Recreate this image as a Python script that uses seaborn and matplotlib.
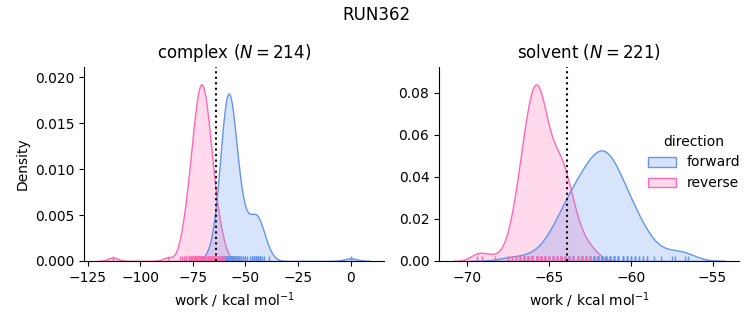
import numpy as np
import pandas as pd
import seaborn as sns
import matplotlib.pyplot as plt

phases = ["complex", "solvent"]
directions = ["forward", "reverse"]
colors = ["#6495ED", "#FF69B4"]

# Work values (kcal/mol) and how many switching trajectories gave each value
complex_forward_work = [-67, -65, -64, -63, -62, -61, -60, -59, -58, -57, -56, -55, -54, -53,
                        -52, -51, -50, -49, -48, -47, -46, -45, -44, -43, -42, -41, -39, 0]
complex_forward_count = [1, 1, 1, 1, 3, 5, 10, 13, 13, 12, 7, 5, 4, 4,
                         2, 2, 2, 1, 1, 2, 3, 3, 4, 3, 1, 1, 1, 1]

complex_reverse_work = [-113, -87, -81, -80, -79, -78, -77, -76, -75, -74, -73, -72, -71,
                        -70, -69, -68, -67, -66, -65, -64, -63, -62, -61, -60]
complex_reverse_count = [1, 1, 1, 1, 2, 3, 4, 4, 6, 7, 9, 9, 10,
                         9, 9, 7, 7, 5, 4, 2, 2, 2, 1, 1]

solvent_forward_work = [-67.5, -66.5, -65.75, -65.25, -65.0, -64.75, -64.5, -64.25, -64.0,
                        -63.75, -63.5, -63.25, -63.0, -62.75, -62.5, -62.25, -62.0, -61.75,
                        -61.5, -61.25, -61.0, -60.75, -60.5, -60.25, -60.0, -59.75, -59.5,
                        -59.25, -59.0, -58.6, -58.15, -57.5, -57.3, -56.7, -56.5]
solvent_forward_count = [1, 1, 1, 1, 1, 2, 2, 3, 3,
                         4, 4, 4, 5, 5, 5, 6, 6, 7,
                         7, 6, 5, 5, 4, 4, 3, 3, 2,
                         2, 2, 1, 1, 1, 1, 1, 1]

solvent_reverse_work = [-69.4, -69.1, -68.3, -67.5, -67.25, -67.0, -66.75, -66.5,
                        -66.25, -66.0, -65.75, -65.5, -65.25, -65.0, -64.75, -64.5, -64.25,
                        -64.0, -63.75, -63.5, -63.25, -63.0, -62.75, -62.5, -62.2]
solvent_reverse_count = [1, 1, 1, 1, 2, 3, 5, 7,
                         9, 10, 11, 11, 8, 5, 5, 6, 7,
                         5, 4, 3, 2, 1, 1, 1, 1]

# Free-energy estimate per phase, drawn as a dotted line
free_energy_estimate = [-64.2, -63.9]

series = [
    ("complex", "forward", complex_forward_work, complex_forward_count),
    ("complex", "reverse", complex_reverse_work, complex_reverse_count),
    ("solvent", "forward", solvent_forward_work, solvent_forward_count),
    ("solvent", "reverse", solvent_reverse_work, solvent_reverse_count),
]
df = pd.concat(
    [pd.DataFrame({"work": np.repeat(np.asarray(w, dtype=float), c),
                   "phase": p, "direction": d})
     for p, d, w, c in series],
    ignore_index=True,
)

g = sns.displot(
    data=df, x="work", hue="direction", col="phase", kind="kde",
    fill=True, rug=True, hue_order=directions, col_order=phases,
    palette=colors, facet_kws=dict(sharex=False, sharey=False),
    height=3.0, aspect=1.0,
)
fig = g.figure
fig.set_size_inches(7.53, 3.25)

for ax, phase, est in zip(g.axes.flat, phases, free_energy_estimate):
    n = int((df["phase"] == phase).sum())
    ax.set_title(f"{phase} ($N = {n}$)", fontsize=12)
    ax.axvline(est, color="black", linestyle=":", linewidth=1.5)
    ax.margins(y=0.1)
    ax.set_xlabel("work / kcal mol$^{-1}$")
g.axes.flat[0].set_ylabel("Density")

fig.suptitle("RUN362", fontsize=12)
fig.subplots_adjust(left=84 / 753, right=739 / 753, bottom=1 - 261 / 325,
                    top=1 - 66.7 / 325, wspace=55 / 300)
sns.move_legend(g, "center right", bbox_to_anchor=(1.0, 0.5), frameon=False)
fig.savefig("out.png", dpi=100)
